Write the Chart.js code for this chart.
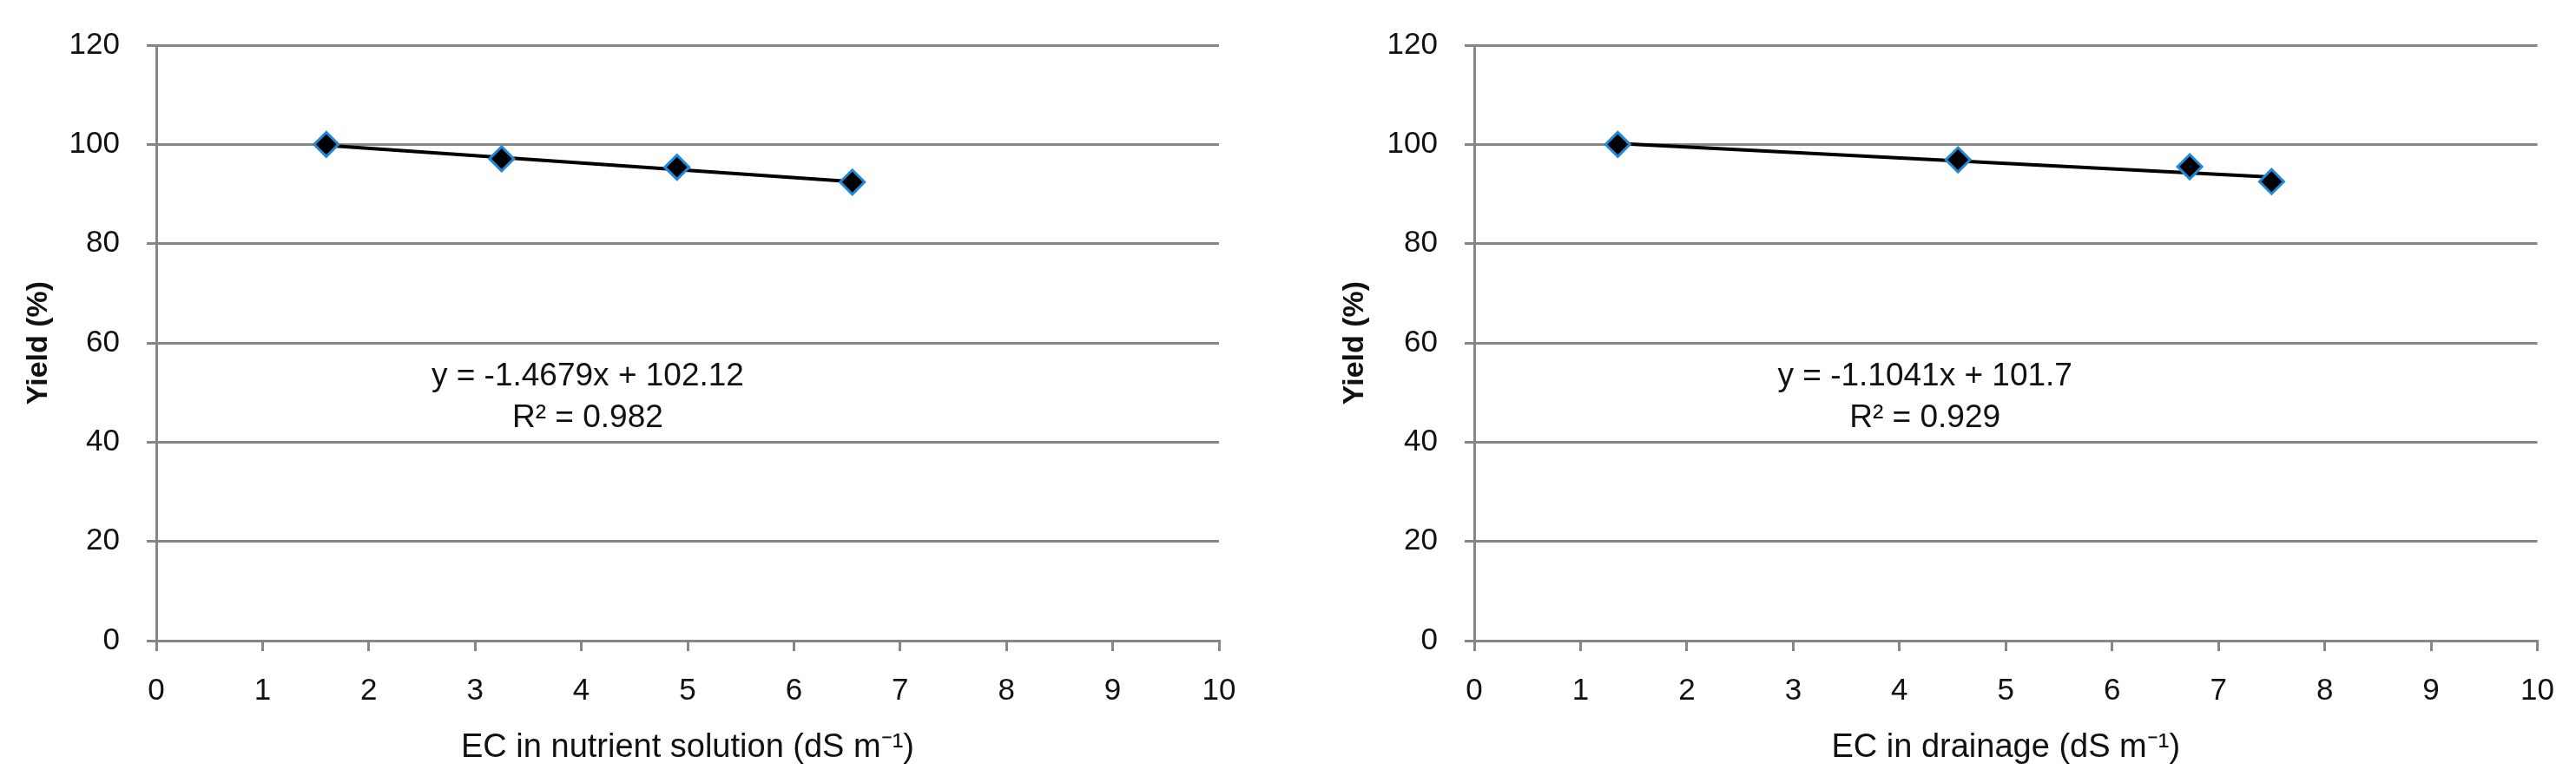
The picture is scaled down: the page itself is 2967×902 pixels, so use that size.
<!DOCTYPE html>
<html>
<head>
<meta charset="utf-8">
<script src="https://cdn.jsdelivr.net/npm/chart.js@4/dist/chart.umd.min.js"></script>
<style>
	body{margin:0;background:#fff;}
	#wrap{position:relative;width:2967px;height:902px;}
	.box{position:absolute;top:0;height:902px;}
</style>
</head>
<body>
<div id="wrap">
	<div class="box" style="left:0;width:1460px;"><canvas id="c1"></canvas></div>
	<div class="box" style="left:1480px;width:1487px;"><canvas id="c2"></canvas></div>
</div>
<script>
// values
const ecNutrient = [1.6, 3.25, 4.9, 6.55];
const yieldNutrient = [100, 97.1, 95.4, 92.4];
const trendNutrientX = [1.6, 6.55];
const trendNutrientY = [99.8, 92.5];

const ecDrainage = [1.35, 4.55, 6.73, 7.5];
const yieldDrainage = [100, 96.9, 95.5, 92.5];
const trendDrainageX = [1.35, 7.5];
const trendDrainageY = [100.2, 93.4];

const eqNutrient = ["y = -1.4679x + 102.12", "R² = 0.982"];
const eqDrainage = ["y = -1.1041x + 101.7", "R² = 0.929"];

const xTitles = ["EC in nutrient solution (dS m⁻¹)", "EC in drainage (dS m⁻¹)"];
const yTitle = "Yield (%)";

const GRID = "#868686";
const FONT = "'Liberation Sans', Arial, sans-serif";

function pts(xs, ys){
	let out = [];
	for (let i = 0; i < xs.length; i++) out.push({x: xs[i], y: ys[i]});
	return out;
}

// draws the trendline equation text at a data position
const eqLabel = {
	id: "eqLabel",
	afterDatasetsDraw(chart, args, opts){
		const ctx = chart.ctx;
		const xs = chart.scales.x, ys = chart.scales.y;
		ctx.save();
		ctx.font = "37px " + FONT;
		ctx.fillStyle = "#111";
		ctx.textAlign = "center";
		ctx.textBaseline = "middle";
		const px = xs.getPixelForValue(opts.x);
		ctx.fillText(opts.lines[0], px, ys.getPixelForValue(opts.y[0]));
		ctx.fillText(opts.lines[1], px, ys.getPixelForValue(opts.y[1]));
		ctx.restore();
	}
};

function graph(canvas, ec, yld, tx, ty, eq, eqX, xTitle, yWidth, padRight, yTitlePad){
	new Chart(canvas, {
		type: "scatter",
		data: {
			datasets: [{
				data: pts(ec, yld),
				pointStyle: "rectRot",
				pointRadius: 14,
				pointHoverRadius: 14,
				backgroundColor: "#000",
				borderColor: "#1f8ad8",
				pointBorderWidth: 3,
				showLine: false
			}, {
				type: "line",
				data: pts(tx, ty),
				borderColor: "#000",
				borderWidth: 4,
				pointRadius: 0,
				fill: false,
				tension: 0
			}]
		},
		options: {
			responsive: true,
			maintainAspectRatio: false,
			animation: false,
			events: [],
			layout: {padding: {top: 36, right: padRight, left: 0, bottom: 0}},
			plugins: {
				legend: {display: false},
				tooltip: {enabled: false},
				eqLabel: {lines: eq, x: eqX, y: [53.3, 44.8]}
			},
			scales: {
				x: {
					type: "linear",
					min: 0, max: 10,
					afterFit: (s) => { s.height = 164; },
					ticks: {stepSize: 1, padding: 25, color: "#111", font: {family: FONT, size: 35}},
					grid: {drawOnChartArea: false, drawTicks: true, tickLength: 12, color: GRID, lineWidth: 3},
					border: {color: GRID, width: 3},
					title: {display: true, text: xTitle, color: "#111", padding: {top: 0, bottom: 18}, font: {family: FONT, size: 38}}
				},
				y: {
					min: 0, max: 120,
					afterFit: (s) => { s.width = yWidth; },
					ticks: {stepSize: 20, padding: 31, color: "#111", font: {family: FONT, size: 35}},
					grid: {tickLength: 11, color: GRID, lineWidth: 3},
					border: {color: GRID, width: 3},
					title: {display: true, text: yTitle, color: "#111", padding: {top: yTitlePad, bottom: 0}, font: {family: FONT, size: 34, weight: "bold"}}
				}
			}
		},
		plugins: [eqLabel]
	});
}

graph(document.getElementById("c1"), ecNutrient, yieldNutrient, trendNutrientX, trendNutrientY,
	eqNutrient, 4.06, xTitles[0], 180, 56, 24);
graph(document.getElementById("c2"), ecDrainage, yieldDrainage, trendDrainageX, trendDrainageY,
	eqDrainage, 4.24, xTitles[1], 218, 40, 60);
</script>
</body>
</html>
